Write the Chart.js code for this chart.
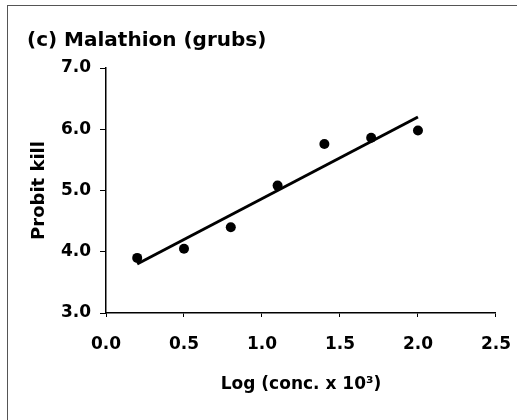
<!DOCTYPE html>
<html>
<head>
<meta charset="utf-8">
<script src="https://cdn.jsdelivr.net/npm/chart.js@4"></script>
<style>
  body { margin: 0; background: #fff; overflow: hidden; }
  #frame {
    position: absolute;
    left: 7px;
    top: 5px;
    width: 509px;
    height: 414px;
    border-left: 1px solid #555;
    border-top: 1px solid #555;
  }
</style>
</head>
<body>
<div id="frame"><canvas id="probitChart"></canvas></div>
<script>
// observed points
const logConc = [0.2, 0.5, 0.8, 1.1, 1.4, 1.7, 2.0];
const probitKill = [3.9, 4.05, 4.4, 5.08, 5.76, 5.86, 5.98];

// fitted regression line end points
const fitX = [0.2, 2.0];
const fitY = [3.8, 6.2];

const chartTitle = "(c) Malathion (grubs)";
const xTitle = "Log (conc. x 10³)";
const yTitle = "Probit kill";

const FONT = "'DejaVu Sans', 'Liberation Sans', Arial, sans-serif";

const ctx = document.getElementById("probitChart").getContext("2d");

new Chart(ctx, {
  type: "scatter",
  data: {
    datasets: [
      {
        label: "Observed",
        data: logConc.map((x, i) => ({ x: x, y: probitKill[i] })),
        pointRadius: 5,
        pointBackgroundColor: "#000",
        pointBorderWidth: 0,
        showLine: false,
      },
      {
        label: "Fit",
        data: fitX.map((x, i) => ({ x: x, y: fitY[i] })),
        showLine: true,
        borderColor: "#000",
        borderWidth: 3,
        pointRadius: 0,
      },
    ],
  },
  options: {
    responsive: true,
    maintainAspectRatio: false,
    animation: false,
    layout: {
      padding: { top: 0, left: 19, right: 21, bottom: 16 },
    },
    plugins: {
      legend: { display: false },
      tooltip: { enabled: false },
      title: {
        display: true,
        text: chartTitle,
        align: "start",
        color: "#000",
        font: { family: FONT, size: 20, weight: "bold", lineHeight: 1.2 },
        padding: { top: 23, bottom: 15 },
      },
    },
    scales: {
      x: {
        type: "linear",
        min: 0,
        max: 2.5,
        border: { color: "#000", width: 1.5 },
        grid: {
          display: true,
          drawOnChartArea: false,
          tickLength: 4,
          tickColor: "#000",
          tickWidth: 1,
        },
        ticks: {
          stepSize: 0.5,
          color: "#000",
          padding: 6,
          maxRotation: 0,
          // tall line box pushes the labels down without widening the side padding
          font: { family: FONT, size: 17, weight: "bold", lineHeight: 2.55 },
          callback: (v) => v.toFixed(1),
        },
        title: {
          display: true,
          text: xTitle,
          color: "#000",
          font: { family: FONT, size: 17, weight: "bold", lineHeight: 1.2 },
          padding: { top: 0, bottom: 9 },
        },
        afterFit: (scale) => {
          scale.height = 91;
        },
      },
      y: {
        min: 3,
        max: 7,
        border: { color: "#000", width: 1.5 },
        grid: {
          display: true,
          drawOnChartArea: false,
          tickLength: 6,
          tickColor: "#000",
          tickWidth: 1,
        },
        ticks: {
          stepSize: 1,
          color: "#000",
          padding: 9,
          font: { family: FONT, size: 17, weight: "bold" },
          callback: (v) => v.toFixed(1),
        },
        title: {
          display: true,
          text: yTitle,
          color: "#000",
          font: { family: FONT, size: 18, weight: "bold", lineHeight: 1.2 },
          padding: { top: 2, bottom: 0 },
        },
        afterFit: (scale) => {
          scale.width = 79;
        },
      },
    },
  },
});
</script>
</body>
</html>
